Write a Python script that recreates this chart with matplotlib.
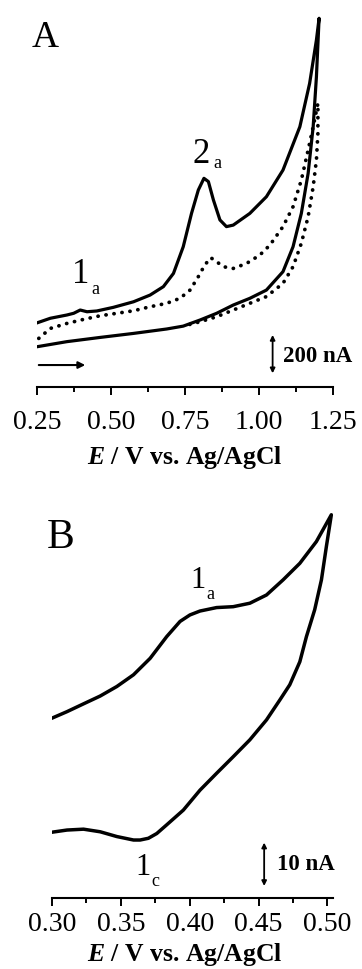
import matplotlib
matplotlib.use("Agg")
import matplotlib.pyplot as plt

# ---- panel A data (E in V, I in nA, arbitrary baseline) ----
a_solid_E = [0.252, 0.295, 0.351, 0.374, 0.396, 0.419, 0.452, 0.508, 0.576, 0.632,
             0.677, 0.711, 0.744, 0.772, 0.795, 0.814, 0.829, 0.846, 0.868, 0.890,
             0.913, 0.969, 1.025, 1.081, 1.138, 1.171, 1.194, 1.203,
             1.194, 1.183, 1.166, 1.143, 1.115, 1.081, 1.025, 0.969, 0.913, 0.857,
             0.801, 0.744, 0.688, 0.576, 0.463, 0.351, 0.252]
a_solid_I = [334, 357, 374, 383, 400, 391, 395, 414, 443, 478,
             522, 591, 730, 904, 1026, 1087, 1070, 974, 870, 835,
             843, 904, 991, 1130, 1356, 1582, 1809, 1922,
             1617, 1356, 1113, 904, 730, 600, 504, 461, 426, 383,
             348, 316, 301, 278, 257, 235, 209]

a_dot_E = [0.256, 0.295, 0.351, 0.407, 0.463, 0.520, 0.576, 0.632, 0.688, 0.733,
           0.767, 0.795, 0.817, 0.837, 0.857, 0.879, 0.913, 0.958, 1.003, 1.037,
           1.081, 1.115, 1.143, 1.166, 1.183, 1.199,
           1.199, 1.194, 1.183, 1.166, 1.143, 1.115, 1.081, 1.025, 0.969, 0.913,
           0.857, 0.801, 0.744]
a_dot_I = [252, 304, 330, 351, 370, 383, 396, 417, 435, 461,
           504, 574, 635, 673, 652, 626, 617, 643, 687, 739,
           835, 939, 1078, 1235, 1356, 1478,
           1322, 1183, 1043, 887, 748, 626, 539, 470, 435, 400,
           365, 339, 316]

# ---- panel B data ----
b_E = [0.3000, 0.3109, 0.3229, 0.3350, 0.3471, 0.3592, 0.3713, 0.3833, 0.3930, 0.4002,
       0.4075, 0.4196, 0.4316, 0.4437, 0.4558, 0.4679, 0.4800, 0.4920, 0.5029,
       0.4993, 0.4957, 0.4908, 0.4848, 0.4800, 0.4727, 0.4655, 0.4558, 0.4437, 0.4316,
       0.4196, 0.4075, 0.3954, 0.3833, 0.3761, 0.3700, 0.3640, 0.3592, 0.3471, 0.3350,
       0.3229, 0.3109, 0.3000]
b_I = [41.4, 42.9, 44.7, 46.5, 48.7, 51.4, 55.2, 60.2, 63.7, 65.2,
       66.1, 66.9, 67.1, 67.9, 69.8, 73.3, 77.1, 82.1, 88.3,
       81.0, 73.3, 66.4, 60.2, 54.4, 49.1, 45.6, 41.0, 36.4, 32.5,
       28.7, 24.8, 20.2, 16.8, 14.8, 13.7, 13.3, 13.3, 14.1, 15.2,
       15.8, 15.6, 15.1]

a_ticks = [0.25, 0.50, 0.75, 1.00, 1.25]
a_tick_labels = ["0.25", "0.50", "0.75", "1.00", "1.25"]
b_ticks = [0.30, 0.35, 0.40, 0.45, 0.50]
b_tick_labels = ["0.30", "0.35", "0.40", "0.45", "0.50"]

W, H = 362, 969
SERIF = "Liberation Serif"
plt.rcParams["font.family"] = SERIF
plt.rcParams["mathtext.fontset"] = "custom"
plt.rcParams["mathtext.it"] = "Liberation Serif:italic:bold"
plt.rcParams["mathtext.rm"] = "Liberation Serif:bold"


def fx(x):
    return x / W


def fy(y):
    return 1 - y / H


def style_axis(ax, pad):
    for s in ["left", "right", "top"]:
        ax.spines[s].set_visible(False)
    ax.spines["bottom"].set_linewidth(1.5)
    ax.set_yticks([])
    ax.tick_params(axis="x", which="major", direction="out", length=5.5, width=1.4,
                   labelsize=20, pad=pad)
    ax.tick_params(axis="x", which="minor", direction="out", length=3.5, width=1.4)


fig = plt.figure(figsize=(W / 100, H / 100), dpi=100)

# panel A
axA = fig.add_axes([fx(37), fy(386.7), fx(296), 371.7 / H])
axA.plot(a_solid_E, a_solid_I, "-", color="black", lw=2.3, solid_joinstyle="round")
axA.plot(a_dot_E, a_dot_I, color="black", lw=2.7, linestyle=(0, (0.05, 2.1)),
         dash_capstyle="round")
axA.set_xlim(0.25, 1.25)
axA.set_ylim(0, 1939)
style_axis(axA, 11)
axA.set_xticks(a_ticks)
axA.set_xticklabels(a_tick_labels)
axA.set_xticks([0.375, 0.625, 0.875, 1.125], minor=True)
# scan direction arrow
axA.annotate("", xy=(0.413, 113), xytext=(0.256, 113),
             arrowprops=dict(arrowstyle="-|>", color="black", lw=1.5,
                             mutation_scale=10, shrinkA=0, shrinkB=0))
# scale bar
axA.annotate("", xy=(1.046, 270), xytext=(1.046, 70),
             arrowprops=dict(arrowstyle="<|-|>", color="black", lw=1.3,
                             mutation_scale=7, shrinkA=0, shrinkB=0))
fig.text(fx(283), fy(356), "200 nA", fontsize=16.5, fontweight="bold", va="center")
fig.text(fx(32), fy(47), "A", fontsize=27)
fig.text(fx(193), fy(163), "2", fontsize=25)
fig.text(fx(213), fy(168), "a", fontsize=13)
fig.text(fx(72), fy(283), "1", fontsize=25)
fig.text(fx(91), fy(294), "a", fontsize=13)
fig.text(fx(185), fy(457), r"$E$ / V vs. Ag/AgCl", fontsize=18.5, fontweight="bold",
         ha="center", va="center")

# panel B
axB = fig.add_axes([fx(52), fy(897.7), fx(281), 397.7 / H])
axB.plot(b_E, b_I, "-", color="black", lw=2.5, solid_joinstyle="round")
axB.set_xlim(0.30, 0.5041)
axB.set_ylim(0, 91.7)
style_axis(axB, 5)
axB.set_xticks(b_ticks)
axB.set_xticklabels(b_tick_labels)
axB.set_xticks([0.325, 0.375, 0.425, 0.475], minor=True)
axB.annotate("", xy=(0.4541, 12.7), xytext=(0.4541, 2.7),
             arrowprops=dict(arrowstyle="<|-|>", color="black", lw=1.3,
                             mutation_scale=7, shrinkA=0, shrinkB=0))
fig.text(fx(277), fy(864), "10 nA", fontsize=16.5, fontweight="bold", va="center")
fig.text(fx(47), fy(548), "B", fontsize=30)
fig.text(fx(190), fy(588), "1", fontsize=22)
fig.text(fx(206), fy(599), "a", fontsize=13)
fig.text(fx(135), fy(875), "1", fontsize=22)
fig.text(fx(151), fy(886), "c", fontsize=13)
fig.text(fx(185), fy(954), r"$E$ / V vs. Ag/AgCl", fontsize=18.5, fontweight="bold",
         ha="center", va="center")

fig.savefig("out.png", dpi=100)
